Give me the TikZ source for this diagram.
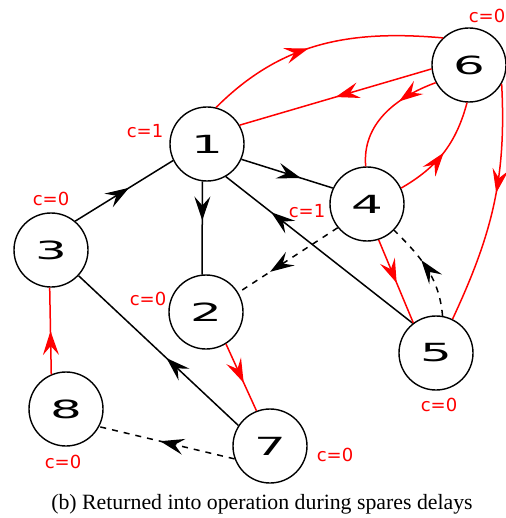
\documentclass[tikz,border=0pt]{standalone}
\usepackage{graphicx}
\usepackage{fontspec}
\setmainfont{Liberation Serif}
\newfontfamily\graphfont{DejaVu Sans}
\usetikzlibrary{arrows.meta,decorations.markings}

\newcommand{\widenum}[1]{\scalebox{2}[1]{#1}}

\begin{document}
\begin{tikzpicture}[x=0.5pt,y=0.5pt,
  vertex/.style={draw,circle,line width=0.7pt,minimum size=37pt,inner sep=0pt,font=\graphfont\fontsize{12.5}{12.5}\selectfont},
  cost/.style={text=red,font=\graphfont\fontsize{9}{9}\selectfont},
  link/.style={line width=0.75pt},
  flow/.style={link,red},
  tip/.style={postaction={decorate,decoration={markings,mark=at position #1 with {\arrow{Stealth[length=12pt,width=8pt,inset=4.5pt]}}}}}]

\useasboundingbox (0,0) rectangle (506,-518);

% The vertices
\node[vertex] (v1) at (207,-144) {\widenum{1}};
\node[vertex] (v2) at (206,-312) {\widenum{2}};
\node[vertex] (v3) at (51,-250) {\widenum{3}};
\node[vertex] (v4) at (367,-204) {\widenum{4}};
\node[vertex] (v5) at (436,-353) {\widenum{5}};
\node[vertex] (v6) at (469,-65) {\widenum{6}};
\node[vertex] (v7) at (270,-446) {\widenum{7}};
\node[vertex] (v8) at (66,-409) {\widenum{8}};

% The costs
\node[cost] (c1) at (145,-131) {c=1};
\node[cost] (c2) at (148,-299) {c=0};
\node[cost] (c3) at (51,-199) {c=0};
\node[cost] (c4) at (307,-211) {c=1};
\node[cost] (c5) at (439,-405) {c=0};
\node[cost] (c6) at (487,-16) {c=0};
\node[cost] (c7) at (335,-455) {c=0};
\node[cost] (c8) at (63,-462) {c=0};

% Black links
\draw[link,tip=0.55] (v3.50) -- (v1.206);
\draw[link,tip=0.65] (v1.-24) -- (v4.155);
\draw[link,tip=0.42] (v1.-97) -- (v2.96);
\draw[link,tip=0.76] (v5.128) -- (v1.-60);
\draw[link,tip=0.45] (v7.147) -- (v3.-43);

% Dashed links
\draw[link,dashed,tip=0.68] (v4.219) -- (v2.31);
\draw[link,dashed,tip=0.6] (v5.80) to[out=95,in=-45] (v4.-44);
\draw[link,dashed,tip=0.55] (v7.200) -- (v8.-28);

% Red links
\draw[flow,tip=0.5] (v8.113) -- (v3.-92);
\draw[flow,tip=0.58] (v2.-58) -- (v7.111);
\draw[flow,tip=0.45] (v1.76) to[out=45,in=175] (v6.134);
\draw[flow,tip=0.5] (v6.186) -- (v1.30);
\draw[flow,tip=0.35] (v6.208) to[out=200,in=95] (v4.92);
\draw[flow,tip=0.5] (v4.25) to[out=30,in=-105] (v6.267);
\draw[flow,tip=0.45] (v6.-30) to[out=-87,in=65] (v5.64);
\draw[flow,tip=0.52] (v4.-72) -- (v5.127);

\node[font=\fontsize{10.9}{13}\selectfont] (caption) at (262,-504) {(b) Returned into operation during spares delays};

\end{tikzpicture}
\end{document}
